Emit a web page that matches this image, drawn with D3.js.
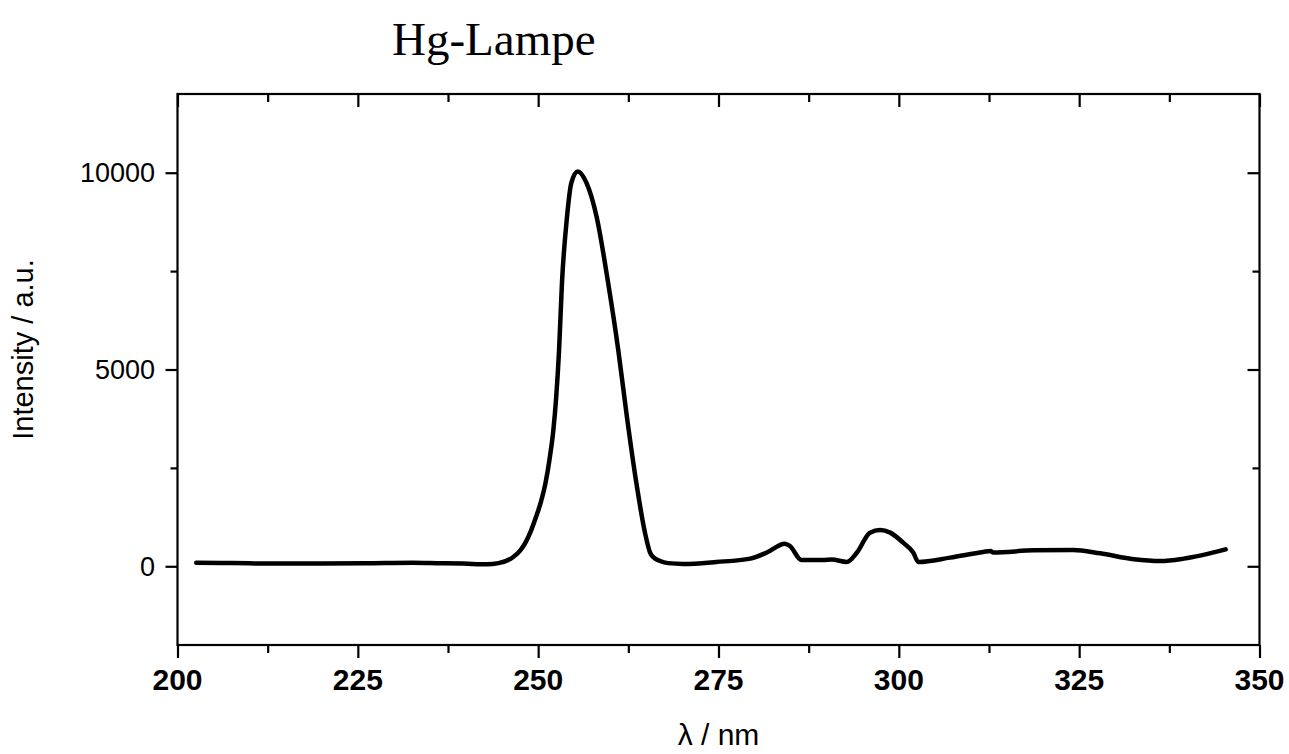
<!DOCTYPE html>
<html>
<head>
<meta charset="utf-8">
<script src="https://cdn.jsdelivr.net/npm/d3@7"></script>
<style>
  html, body { margin: 0; padding: 0; background: #fff; }
  svg { display: block; }
</style>
</head>
<body>
<div id="chart"></div>
<script>
// Hg lamp emission spectrum
const wavelength = [202.6, 206, 210, 214.2, 220, 226, 232.6, 236, 239.6, 242.9,
  244.5, 246.5, 247.5, 248.3, 249.0, 249.7, 250.4, 251.0, 251.6, 252.1, 252.5,
  252.9, 253.3, 254.0, 254.6, 255.5, 256.7, 258.1, 259.7, 261.1, 262.3, 263.6,
  264.8, 265.5, 265.9, 266.9, 268, 270.1, 274.7, 279.4, 281.7, 284.2, 284.9,
  286.5, 289.5, 290.7, 292.8, 294.2, 296.0, 297.4, 298.8, 300.6, 302.0, 302.7,
  307.1, 311.7, 312.7, 313.1, 318.7, 324.2, 327.9, 332.6, 336.3, 339.5, 345.3];
const intensity = [90, 85, 75, 68, 70, 75, 90, 80, 68, 50,
  80, 230, 400, 620, 900, 1250, 1650, 2100, 2750, 3450, 4300,
  5500, 7200, 8880, 9740, 10030, 9740, 8880, 7200, 5500, 3800, 2130,
  860, 355, 240, 135, 80, 60, 110, 195, 350, 575, 515,
  160, 160, 170, 110, 350, 855, 920, 855, 600, 350, 110,
  220, 365, 390, 350, 405, 415, 330, 180, 135, 195, 430];

const xMajor = [200, 225, 250, 275, 300, 325, 350];
const xMinor = [212.5, 237.5, 262.5, 287.5, 312.5, 337.5];
const yMajor = [0, 5000, 10000];
const yMinor = [2500, 7500];

const W = 1289, H = 754;
const margin = { left: 177.5, right: 1289 - 1259.5, top: 94, bottom: 754 - 645 };

const svg = d3.select("#chart").append("svg")
  .attr("width", W)
  .attr("height", H);

const x = d3.scaleLinear().domain([200, 350]).range([margin.left, W - margin.right]);
const y = d3.scaleLinear().domain([-2000, 12000]).range([H - margin.bottom, margin.top]);

// title
svg.append("text")
  .attr("x", 392)
  .attr("y", 55)
  .attr("font-family", "'Liberation Serif', 'Times New Roman', serif")
  .attr("font-size", 47)
  .text("Hg-Lampe");

// axes helper: ticks only, domain drawn as a frame
function tickAxis(axis, transform, values, size) {
  const g = svg.append("g")
    .attr("transform", transform)
    .call(axis.tickValues(values).tickSizeInner(size).tickSizeOuter(0).tickFormat(""));
  g.select(".domain").remove();
  g.selectAll("line").attr("stroke", "#000").attr("stroke-width", 2.2);
  return g;
}

const bottomY = y(-2000), topY = y(12000);
const leftX = x(200), rightX = x(350);

tickAxis(d3.axisBottom(x), `translate(0,${bottomY})`, xMajor, 13);
tickAxis(d3.axisBottom(x), `translate(0,${bottomY})`, xMinor, 8);
tickAxis(d3.axisTop(x), `translate(0,${topY})`, xMajor, -13);
tickAxis(d3.axisTop(x), `translate(0,${topY})`, xMinor, -8);
tickAxis(d3.axisLeft(y), `translate(${leftX},0)`, yMajor, 12);
tickAxis(d3.axisLeft(y), `translate(${leftX},0)`, yMinor, 7);
tickAxis(d3.axisRight(y), `translate(${rightX},0)`, yMajor, -12);
tickAxis(d3.axisRight(y), `translate(${rightX},0)`, yMinor, -7);

// frame
svg.append("rect")
  .attr("x", leftX)
  .attr("y", topY)
  .attr("width", rightX - leftX)
  .attr("height", bottomY - topY)
  .attr("fill", "none")
  .attr("stroke", "#000")
  .attr("stroke-width", 2.2);

// tick labels
svg.append("g").selectAll("text")
  .data(xMajor)
  .join("text")
  .attr("x", d => x(d))
  .attr("y", 690)
  .attr("text-anchor", "middle")
  .attr("font-family", "'Liberation Sans', Arial, sans-serif")
  .attr("font-weight", "bold")
  .attr("font-size", 30)
  .text(d => d);

svg.append("g").selectAll("text")
  .data(yMajor)
  .join("text")
  .attr("x", 155)
  .attr("y", d => y(d))
  .attr("dy", "0.36em")
  .attr("text-anchor", "end")
  .attr("font-family", "'Liberation Sans', Arial, sans-serif")
  .attr("font-size", 27)
  .text(d => d);

// axis titles
svg.append("text")
  .attr("x", (leftX + rightX) / 2)
  .attr("y", 745)
  .attr("text-anchor", "middle")
  .attr("font-family", "'Liberation Sans', Arial, sans-serif")
  .attr("font-size", 30)
  .text("λ / nm");

svg.append("text")
  .attr("transform", `translate(33,${(topY + bottomY) / 2 - 20}) rotate(-90)`)
  .attr("text-anchor", "middle")
  .attr("font-family", "'Liberation Sans', Arial, sans-serif")
  .attr("font-size", 29)
  .text("Intensity / a.u.");

// spectrum
const pts = wavelength.map((w, i) => [w, intensity[i]]);
const line = d3.line()
  .x(d => x(d[0]))
  .y(d => y(d[1]))
  .curve(d3.curveMonotoneX);

svg.append("path")
  .datum(pts)
  .attr("d", line)
  .attr("fill", "none")
  .attr("stroke", "#000")
  .attr("stroke-width", 4.5)
  .attr("stroke-linejoin", "round")
  .attr("stroke-linecap", "round");
</script>
</body>
</html>
